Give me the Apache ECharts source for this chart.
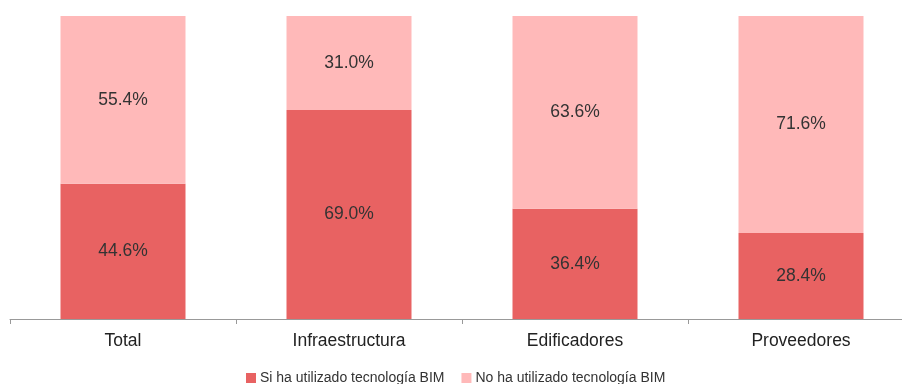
<!DOCTYPE html>
<html>
<head>
<meta charset="utf-8">
<script src="https://cdn.jsdelivr.net/npm/echarts@6/dist/echarts.min.js"></script>
<style>
  html, body { margin: 0; padding: 0; background: #fff; overflow: hidden; }
  #chart { width: 914px; height: 384px; }
</style>
</head>
<body>
<div id="chart"></div>
<script>
const categories = ['Total', 'Infraestructura', 'Edificadores', 'Proveedores']
const siBim = [44.6, 69.0, 36.4, 28.4]
const noBim = [55.4, 31.0, 63.6, 71.6]

// plot runs a little past the right edge of the window, like the original
const chart = echarts.init(document.getElementById('chart'))

const labelStyle = {
  show: true,
  position: 'inside',
  color: '#333',
  fontSize: 17.5,
  fontFamily: 'Liberation Sans',
  formatter: p => p.value.toFixed(1) + '%'
}

chart.setOption({
  animation: false,
  grid: {
    left: 10,
    right: 0,
    top: 16,
    height: 303
  },
  legend: {
    bottom: -1,
    padding: 0,
    left: 246,
    itemWidth: 10,
    itemHeight: 10,
    itemGap: 17,
    icon: 'rect',
    textStyle: { color: '#333', fontSize: 14, fontFamily: 'Liberation Sans', padding: [0, 0, 0, -1] },
    data: ['Si ha utilizado tecnología BIM', 'No ha utilizado tecnología BIM']
  },
  xAxis: {
    type: 'category',
    data: categories,
    axisLine: { lineStyle: { color: '#999', width: 1 } },
    axisTick: { show: true, length: 5, lineStyle: { color: '#999' } },
    axisLabel: { color: '#222', fontSize: 17.5, fontFamily: 'Liberation Sans', margin: 13 }
  },
  yAxis: {
    type: 'value',
    min: 0,
    max: 100,
    show: false
  },
  series: [
    {
      name: 'Si ha utilizado tecnología BIM',
      type: 'bar',
      stack: 'total',
      barWidth: 125,
      data: siBim,
      itemStyle: { color: '#E86262' },
      label: labelStyle
    },
    {
      name: 'No ha utilizado tecnología BIM',
      type: 'bar',
      stack: 'total',
      barWidth: 125,
      data: noBim,
      itemStyle: { color: '#FFB9B9' },
      label: labelStyle
    }
  ]
})
</script>
</body>
</html>
